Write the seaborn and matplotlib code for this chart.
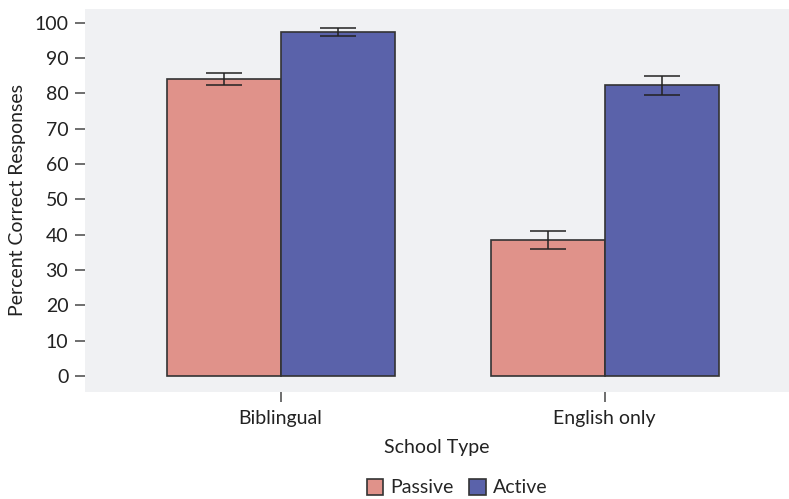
import matplotlib
matplotlib.use("Agg")
import matplotlib.pyplot as plt
import seaborn as sns
import pandas as pd
from matplotlib.patches import Patch

school_types = ["Biblingual", "English only"]
conditions = ["Passive", "Active"]
passive_means = [84.0, 38.4]
active_means = [97.4, 82.3]
passive_err = [1.7, 2.6]
active_err = [1.2, 2.7]
y_ticks = [0, 10, 20, 30, 40, 50, 60, 70, 80, 90, 100]

colors = {"Passive": "#E0928A", "Active": "#5A62AA"}

df = pd.DataFrame({
    "School Type": school_types * 2,
    "Condition": ["Passive"] * 2 + ["Active"] * 2,
    "Percent": passive_means + active_means,
    "Err": passive_err + active_err,
})

sns.set_theme(style="white")
plt.rcParams["font.family"] = ["Lato", "DejaVu Sans"]

fig = plt.figure(figsize=(7.89, 4.99), dpi=100)
ax = fig.add_axes([85 / 789, (499 - 391.7) / 499, 1 - 85 / 789, (391.7 - 9) / 499])
ax.set_facecolor("#F0F1F3")

sns.barplot(data=df, x="School Type", y="Percent", hue="Condition",
            order=school_types, hue_order=conditions, palette=colors,
            errorbar=None, width=0.704, edgecolor="#333333", linewidth=1.2,
            saturation=1, ax=ax, legend=False)

# error bars centred on each drawn bar
for container, cond in zip(ax.containers, conditions):
    errs = df[df["Condition"] == cond].set_index("School Type").loc[school_types, "Err"].values
    xs = [p.get_x() + p.get_width() / 2 for p in container.patches]
    hs = [p.get_height() for p in container.patches]
    ax.errorbar(xs, hs, yerr=errs, fmt="none", ecolor="#222222",
                elinewidth=1.1, capsize=13, capthick=1.1, zorder=5)

ax.set_xlim(-0.604, 1.569)
ax.set_ylim(-4.5, 103.9)
ax.set_yticks(y_ticks)
for s in ax.spines.values():
    s.set_visible(False)
ax.tick_params(axis="y", which="major", left=True, length=7, width=1.2,
               color="#555555", labelsize=14, labelcolor="#222222", pad=5)
ax.tick_params(axis="x", which="major", bottom=True, length=7, width=1.2,
               color="#555555", labelsize=14, labelcolor="#222222", pad=6)

ax.set_xlabel("School Type", fontsize=14, color="#222222", labelpad=9)
ax.set_ylabel("Percent Correct Responses", fontsize=14, color="#222222", labelpad=6)

handles = [Patch(facecolor=colors[c], edgecolor="#333333", linewidth=1.2, label=c)
           for c in conditions]
fig.legend(handles=handles, loc="lower center", bbox_to_anchor=(457 / 789, -0.03),
           ncol=2, frameon=False, fontsize=14, handlelength=0.85, handleheight=0.9,
           handletextpad=0.35, columnspacing=0.8)

fig.savefig("out.png", dpi=100)
